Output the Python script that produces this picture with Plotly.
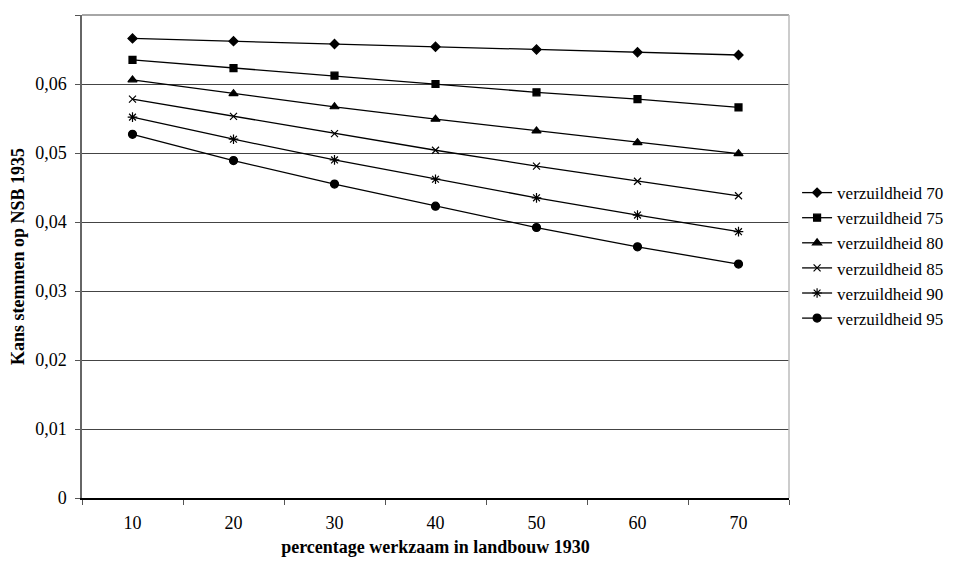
import plotly.graph_objects as go

categories = ["10", "20", "30", "40", "50", "60", "70"]
series_names = ["verzuildheid 70", "verzuildheid 75", "verzuildheid 80",
                "verzuildheid 85", "verzuildheid 90", "verzuildheid 95"]
v70 = [0.0666, 0.0662, 0.0658, 0.0654, 0.0650, 0.0646, 0.0642]
v75 = [0.0635, 0.0623, 0.0612, 0.0600, 0.0588, 0.0578, 0.0566]
v80 = [0.0606, 0.0586, 0.0567, 0.0549, 0.0532, 0.0515, 0.0499]
v85 = [0.0578, 0.0553, 0.0528, 0.0504, 0.0481, 0.0459, 0.0438]
v90 = [0.0552, 0.0520, 0.0490, 0.0462, 0.0435, 0.0410, 0.0386]
v95 = [0.0527, 0.0489, 0.0455, 0.0423, 0.0392, 0.0364, 0.0339]
series_values = [v70, v75, v80, v85, v90, v95]
y_tickvals = [0, 0.01, 0.02, 0.03, 0.04, 0.05, 0.06, 0.07]
y_ticktext = ["0", "0,01", "0,02", "0,03", "0,04", "0,05", "0,06", "0,07"]

symbols = ["diamond", "square", "triangle-up", "x-thin", "asterisk", "circle"]
sizes = [7, 7, 8, 7, 8, 8]

FONT = "Liberation Serif"

fig = go.Figure()
for name, vals, sym, sz in zip(series_names, series_values, symbols, sizes):
    fig.add_trace(go.Scatter(
        x=categories, y=vals, name=name, mode="lines+markers",
        legendgroup=name,
        line=dict(color="black", width=1.3),
        marker=dict(symbol=sym, size=sz, color="black",
                    line=dict(color="black", width=1.2)),
    ))

fig.update_layout(
    width=953, height=555,
    margin=dict(l=74, r=172, t=7, b=65, autoexpand=False),
    paper_bgcolor="white", plot_bgcolor="white",
    font=dict(family=FONT, size=18, color="black"),
    showlegend=True,
    legend=dict(xref="container", yref="container",
                x=0.828, y=0.699, xanchor="left", yanchor="top",
                font=dict(family=FONT, size=17, color="black"),
                traceorder="grouped", tracegroupgap=0,
                itemwidth=30, bgcolor="rgba(0,0,0,0)"),
    xaxis=dict(
        type="category", range=[-0.5, 6.5],
        tickson="boundaries", ticks="outside", ticklen=5, tickcolor="#555",
        showline=True, linecolor="black", linewidth=1.5,
        showgrid=False, zeroline=False,
        tickfont=dict(family=FONT, size=18),
        ticklabelstandoff=8,
        title=dict(text="<b>percentage werkzaam in landbouw 1930</b>",
                   font=dict(family=FONT, size=18), standoff=8),
    ),
    yaxis=dict(
        range=[0, 0.07], tickvals=y_tickvals, ticktext=y_ticktext,
        ticks="outside", ticklen=5, tickcolor="#555",
        showline=True, linecolor="#666", linewidth=1.5,
        showgrid=True, gridcolor="#444", gridwidth=1,
        zeroline=False,
        tickfont=dict(family=FONT, size=18),
        ticklabelstandoff=5,
        title=dict(text="<b>Kans stemmen op NSB 1935</b>",
                   font=dict(family=FONT, size=18), standoff=6),
    ),
)

fig.add_shape(type="line", xref="paper", yref="paper", x0=0, x1=1, y0=1, y1=1,
              line=dict(color="#888", width=1.5), layer="above")
fig.add_shape(type="line", xref="paper", yref="paper", x0=1, x1=1, y0=0, y1=1,
              line=dict(color="#bbb", width=1.5), layer="above")

fig.write_html("out.html")
